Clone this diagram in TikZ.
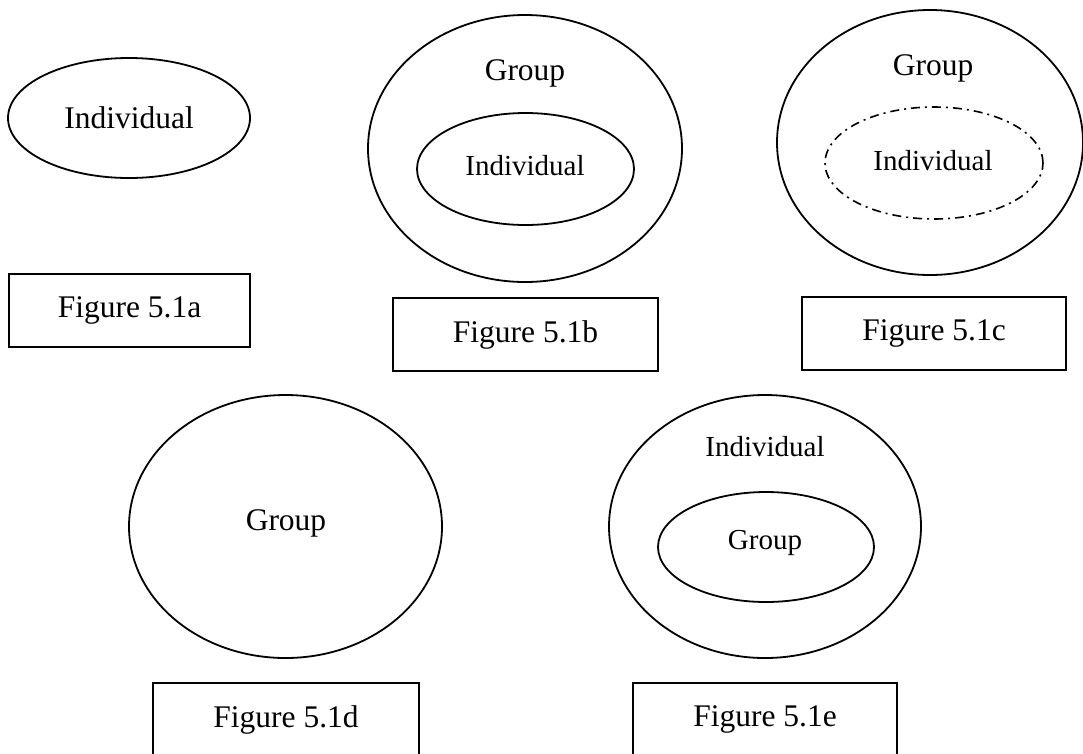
\documentclass[tikz,border=0pt]{standalone}
\usepackage{fontspec}
\setmainfont{Liberation Serif}
\usetikzlibrary{shapes.geometric}
\newcommand{\bigtxt}{\fontsize{31.5}{38}\selectfont}
\newcommand{\smalltxt}{\fontsize{29}{35}\selectfont}
\tikzset{
  oval/.style={draw, ellipse, line width=1.8pt, inner sep=0pt},
  dotoval/.style={oval, line width=1.6pt, dash pattern=on 9pt off 5pt on 2pt off 5pt},
  figbox/.style={draw, rectangle, line width=1.8pt, font=\bigtxt,
    minimum width=265pt, minimum height=73pt, inner sep=0pt},
  lbl/.style={font=\bigtxt, inner sep=0pt},
  slbl/.style={font=\smalltxt, inner sep=0pt}
}

\begin{document}
\begin{tikzpicture}[x=1pt, y=-1pt]
    \useasboundingbox (0,0) rectangle (1083,753);

    % 5.1a
    \node[oval, font=\bigtxt, minimum width=242pt, minimum height=120pt] (indA) at (129,118) {Individual};
    \node[figbox, minimum width=241pt] (figA) at (129.5,310.5) {Figure 5.1a};

    % 5.1b
    \node[oval, minimum width=314pt, minimum height=267pt] (grpB) at (525,148.5) {};
    \node[lbl] (grpBlbl) at (525,73) {Group};
    \node[oval, minimum width=217pt, minimum height=112pt] (indB) at (525.5,169) {};
    \node[slbl] (indBlbl) at (525,166) {Individual};
    \node[figbox] (figB) at (525.5,334.5) {Figure 5.1b};

    % 5.1c
    \node[oval, minimum width=306pt, minimum height=265pt] (grpC) at (930,142.5) {};
    \node[lbl] (grpClbl) at (933,68) {Group};
    \node[dotoval, minimum width=218pt, minimum height=112pt] (indC) at (934,163) {};
    \node[slbl] (indClbl) at (933,161) {Individual};
    \node[figbox, minimum width=264pt] (figC) at (934,333.5) {Figure 5.1c};

    % 5.1d
    \node[oval, minimum width=313pt, minimum height=263pt] (grpD) at (285.5,526.5) {};
    \node[lbl] (grpDlbl) at (286,523) {Group};
    \node[figbox, minimum width=266pt] (figD) at (286,719.5) {Figure 5.1d};

    % 5.1e
    \node[oval, minimum width=312pt, minimum height=263pt] (indE) at (765,526.5) {};
    \node[slbl] (indElbl) at (765,447) {Individual};
    \node[oval, minimum width=216pt, minimum height=110pt] (grpE) at (766,547) {};
    \node[slbl] (grpElbl) at (765,543) {Group};
    \node[figbox, minimum width=264pt] (figE) at (765,719.5) {Figure 5.1e};
\end{tikzpicture}
\end{document}
